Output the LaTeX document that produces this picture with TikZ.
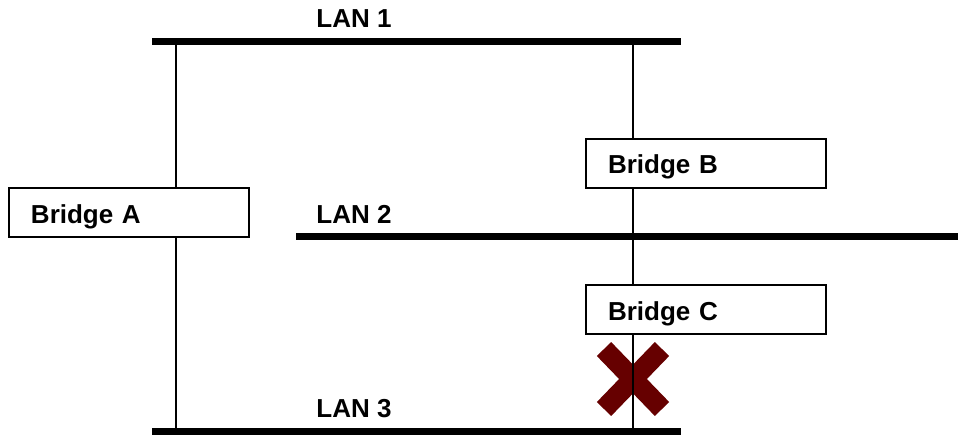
\documentclass[tikz,border=0pt]{standalone}
\usepackage{fontspec}
\setmainfont{Liberation Sans}
\usetikzlibrary{positioning}
\definecolor{crossred}{RGB}{102,0,0}
\tikzset{
  lan/.style={line width=3.5pt},
  tap/.style={line width=0.75pt},
  bridgebox/.style={draw, line width=1pt, fill=white, anchor=west, minimum height=24.5pt,
    text width=98pt, inner xsep=11pt, align=left, text height=10.5pt, text depth=0pt,
    font=\fontsize{13}{15}\selectfont\bfseries},
  lanlabel/.style={anchor=base west, inner sep=0pt, font=\fontsize{13}{15}\selectfont\bfseries}
}
\begin{document}
\begin{tikzpicture}[x=0.5pt,y=-0.5pt]
        \useasboundingbox (0,0) rectangle (958,435);
        % segment ends
        \coordinate (l1w) at (152,41);
        \coordinate (l1e) at (681,41);
        \coordinate (l2w) at (296,236.5);
        \coordinate (l2e) at (958,236.5);
        \coordinate (l3w) at (152,431.5);
        \coordinate (l3e) at (681,431.5);
        \coordinate (a1) at (176,41);
        \coordinate (a3) at (176,431.5);
        \coordinate (b1) at (633,41);
        \coordinate (c3) at (633,431.5);
        % broken link
        \coordinate (x1) at (604,349);
        \coordinate (x2) at (662,409);
        \coordinate (x3) at (662,349);
        \coordinate (x4) at (604,409);
        \draw[crossred, line width=10pt] (x1) -- (x2) (x3) -- (x4);
        \draw[tap] (a1) -- (a3);
        \draw[tap] (b1) -- (c3);
        \node[bridgebox] (brA) at (8,212.5) {Bridge A};
        \node[bridgebox] (brB) at (585,163) {Bridge B};
        \node[bridgebox] (brC) at (585,309.5) {Bridge C};
        \draw[lan] (l1w) -- (l1e);
        \draw[lan] (l2w) -- (l2e);
        \draw[lan] (l3w) -- (l3e);
        \node[lanlabel] (lan1) at (316,27) {LAN 1};
        \node[lanlabel] (lan2) at (316,223) {LAN 2};
        \node[lanlabel] (lan3) at (316,417) {LAN 3};
    \end{tikzpicture}
\end{document}
